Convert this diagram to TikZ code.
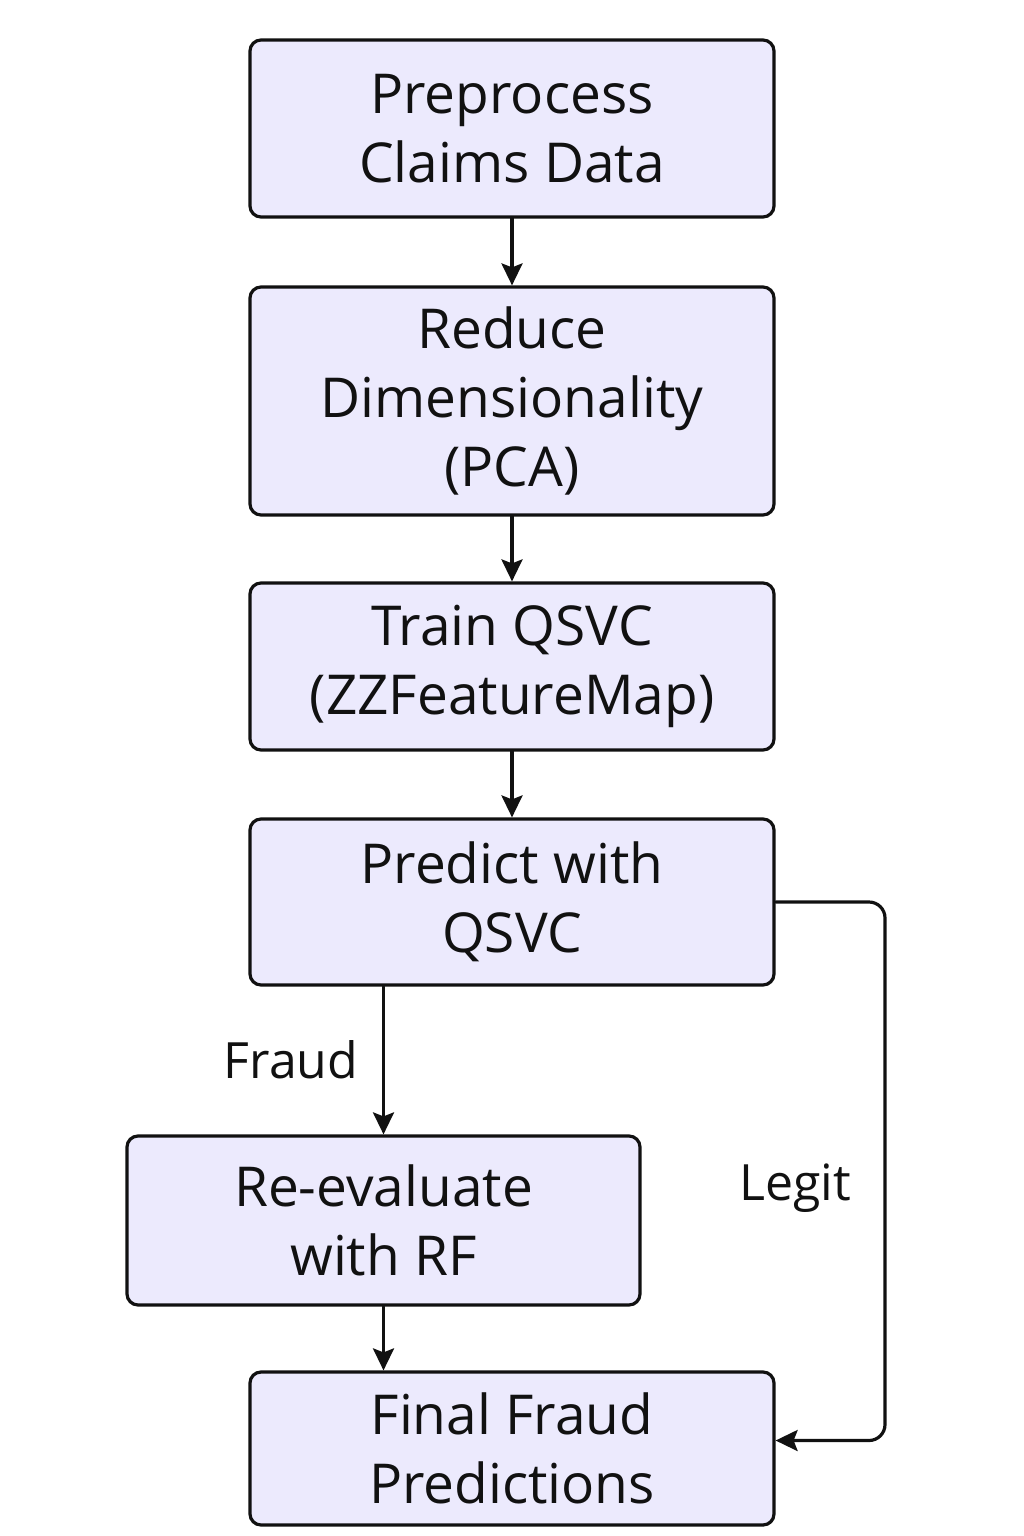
\documentclass[tikz,border=0pt]{standalone}
\usepackage{fontspec}
\setmainfont{Open Sans}
\usetikzlibrary{arrows.meta,positioning}
\definecolor{flowFill}{HTML}{ECEAFD}
\definecolor{flowInk}{HTML}{111111}

\begin{document}
\begin{tikzpicture}[x=1pt,y=-1pt,line cap=round,line join=round]
\useasboundingbox[fill=white] (0,0) rectangle (1024,1536);
\tikzset{stage/.style={draw=flowInk,fill=flowFill,line width=3.2pt,rounded corners=11pt,align=center,font=\fontsize{55}{69}\selectfont,text=flowInk,inner sep=0pt},flow/.style={draw=flowInk,line width=3.2pt,-{Stealth[length=22pt,width=21pt,inset=4pt]}},tag/.style={font=\fontsize{50}{60}\selectfont,text=flowInk}}
\node[stage,minimum width=524pt,minimum height=177pt] (prep) at (512,128.5) {Preprocess\\Claims Data};
\node[stage,minimum width=524pt,minimum height=228pt] (pca) at (512,401) {Reduce\\Dimensionality\\(PCA)};
\node[stage,minimum width=524pt,minimum height=167pt] (train) at (512,666.5) {Train QSVC\\(ZZFeatureMap)};
\node[stage,minimum width=524pt,minimum height=166pt] (predict) at (512,902) {Predict with\\QSVC};
\node[stage,minimum width=513pt,minimum height=169pt] (rerun) at (383.5,1220.5) {Re-evaluate\\with RF};
\node[stage,minimum width=524pt,minimum height=153pt] (final) at (512,1448.5) {Final Fraud\\Predictions};
% main chain
\draw[flow] (prep) -- (pca);
\draw[flow] (pca) -- (train);
\draw[flow] (train) -- (predict);
\draw[flow] (predict.south -| rerun.north) -- (rerun.north);
\draw[flow] (rerun.south) -- (rerun.south |- final.north);
% legit branch
\coordinate (turn) at (885,902);
\draw[flow,rounded corners=16pt] (predict.east) -- (turn) |- ([yshift=8pt]final.east);
\node[tag] (fraud) at (291,1060) {Fraud};
\node[tag] (legit) at (795,1188) {Legit};
\end{tikzpicture}
\end{document}
